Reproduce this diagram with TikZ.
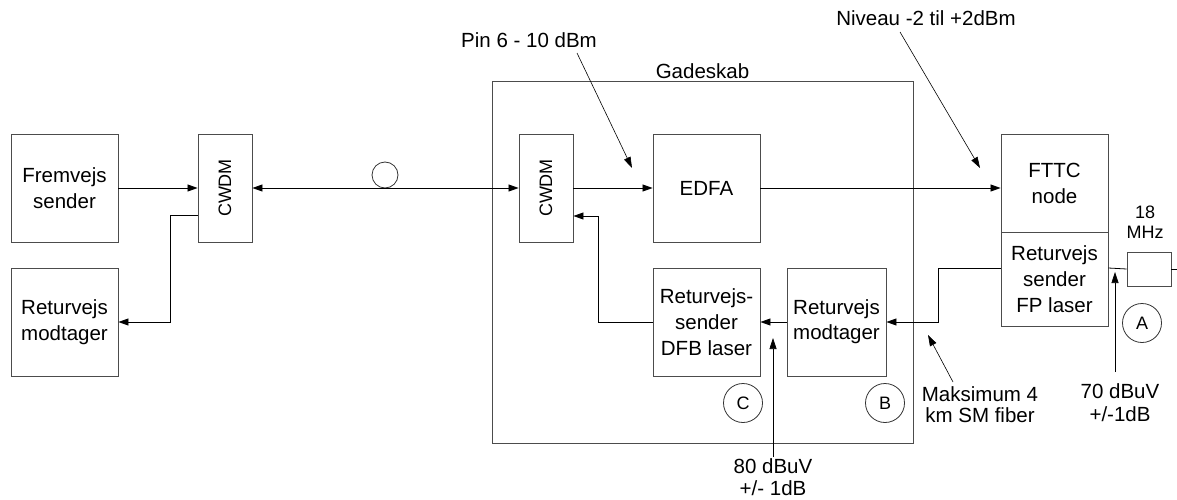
\documentclass[tikz,border=0pt]{standalone}
\usepackage{fontspec}
\setmainfont{Liberation Sans}
\usetikzlibrary{arrows.meta}

\tikzset{
  every node/.style={font=\fontsize{20.5}{26}\selectfont, inner sep=1pt},
  box/.style={draw=black!70, line width=0.9pt, rectangle, align=center, inner sep=0pt},
  bigbox/.style={box, minimum width=107, minimum height=108},
  slimbox/.style={box, minimum width=54, minimum height=108},
  ring/.style={draw=black!80, line width=0.8pt, circle, minimum size=39, inner sep=0pt,
    font=\fontsize{18}{20}\selectfont},
  sig/.style={line width=0.8pt, -{Triangle[length=10pt,width=7pt]}},
  note/.style={line width=0.6pt, -{Triangle[length=11pt,width=7pt]}},
  wire/.style={line width=0.8pt}
}

\begin{document}
\begin{tikzpicture}[x=1pt,y=-1pt]
  \useasboundingbox (0,0) rectangle (1177,500);

  \node[bigbox] (fremsender) at (64.5,188) {Fremvejs\\sender};
  \node[bigbox, align=center] (returmodt) at (64.5,322)
    {\fontsize{20.5}{37}\selectfont Returvejs\\modtager};
  \node[slimbox] (cwdmA) at (225,188) {};
  \node[rotate=90, font=\fontsize{18}{20}\selectfont] at (cwdmA) {CWDM};

  \node[circle, draw=black!80, line width=0.8pt, minimum size=26, inner sep=0pt] (fiber) at (385,175) {};

  \node[box, minimum width=421, minimum height=362] (gadeskab) at (702.5,262) {};
  \node[anchor=south, inner sep=2pt] at (gadeskab.north) {Gadeskab};
  \node[slimbox] (cwdmB) at (546,188) {};
  \node[rotate=90, font=\fontsize{18}{20}\selectfont] at (cwdmB) {CWDM};
  \node[bigbox] (edfa) at (706.5,188) {EDFA};
  \node[bigbox] (dfb) at (706.5,322) {Returvejs-\\sender\\DFB laser};
  \node[bigbox, minimum width=99, font=\fontsize{20.5}{25}\selectfont] (modtB) at (836.5,322) {Returvejs\\modtager};
  \node[ring] (C) at (743,403) {C};
  \node[ring] (B) at (885,403) {B};

  \node[box, minimum width=107, minimum height=98] (fttc) at (1054.5,183) {FTTC\\node};
  \node[box, minimum width=107, minimum height=94] (fp) at (1054.5,279) {Returvejs\\sender\\FP laser};
  \node[box, minimum width=44, minimum height=34] (filter) at (1149,269) {};
  \node[align=center, font=\fontsize{18}{20}\selectfont] (mhz) at (1145,222) {18\\MHz};
  \node[ring] (A) at (1142,323) {A};
  \coordinate (kabel) at (1177,269);

  \node (pin) at (529,40) {Pin 6 - 10 dBm};
  \node (niveau) at (926,18) {Niveau -2 til +2dBm};
  \node[align=center, font=\fontsize{20.5}{21}\selectfont] (maks) at (980,405) {Maksimum 4\\km SM fiber};
  \node[align=center, font=\fontsize{20.5}{22}\selectfont, anchor=north] (dbA) at (773,457) {80 dBuV\\+/- 1dB};
  \node[align=center, font=\fontsize{20.5}{23}\selectfont] (dbB) at (1120,403) {70 dBuV\\+/-1dB};
  \coordinate (pinend) at (632,168);
  \coordinate (nivend) at (980,168);
  \coordinate (maksend) at (928,335);
  \coordinate (dbAend) at (773,338);
  \coordinate (dbBend) at (1115,272);

  \draw[sig] (fremsender) -- (cwdmA);
  \draw[sig] ([yshift=-27pt]cwdmA.west) -- ++(-27,0) |- (returmodt.east);
  \draw[sig, {Triangle[length=10pt,width=7pt]}-{Triangle[length=10pt,width=7pt]}] (cwdmA) -- (cwdmB);
  \draw[sig] (cwdmB) -- (edfa);
  \draw[sig] (edfa.east) -- (fttc.west |- edfa.east);
  \draw[sig] (dfb.west) -- ++(-54,0) |- ([yshift=-28pt]cwdmB.east);
  \draw[sig] (modtB) -- (dfb);
  \draw[sig] ([yshift=11pt]fp.west) -- ++(-62,0) |- (modtB.east);
  \draw[wire] ([yshift=11pt]fp.east) -- (filter.west);
  \draw[wire] (filter.east) -- (kabel);

  \draw[note] (577,53) -- (pinend);
  \draw[note] (900,32) -- (nivend);
  \draw[note] (953,382) -- (maksend);
  \draw[note] (dbA.north) -- (dbAend);
  \draw[note] (1115,372) -- (dbBend);
\end{tikzpicture}
\end{document}
